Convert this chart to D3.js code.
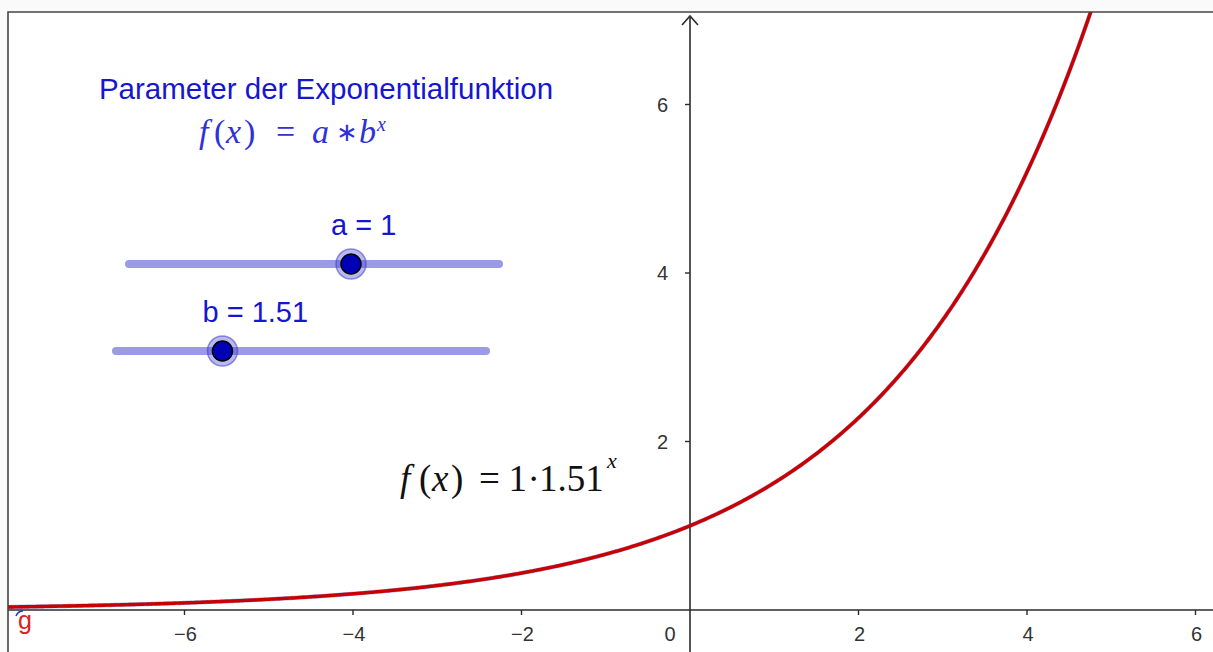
<!DOCTYPE html>
<html>
<head>
<meta charset="utf-8">
<script src="https://cdn.jsdelivr.net/npm/d3@7"></script>
<style>
  html, body { margin: 0; padding: 0; background: #fafafa; }
  svg { display: block; }
  .sans { font-family: "Liberation Sans", Arial, sans-serif; }
  .serif { font-family: "Liberation Serif", "Times New Roman", serif; }
</style>
</head>
<body>
<svg id="chart" width="1213" height="652"></svg>
<script>
// Function parameters f(x) = a * b^x
const paramA = 1;
const paramB = 1.51;

// Slider ranges
const sliderRangeA = [-5, 5];
const sliderRangeB = [0.1, 5];

// Axis ticks
const xTickValues = [-6, -4, -2, 0, 2, 4, 6];
const yTickValues = [2, 4, 6];

// Texts
const titleText = "Parameter der Exponentialfunktion";
const curveName = "g";

const W = 1213, H = 652;
const frameLeft = 8, frameTop = 12;
const svg = d3.select("#chart");

// drawing area
svg.append("rect").attr("x", frameLeft).attr("y", frameTop)
  .attr("width", W - frameLeft).attr("height", H - frameTop).attr("fill", "#ffffff");

// scales: origin at (690, 610), ~84.25 px per unit
const unit = 84.25;
const x = d3.scaleLinear().domain([(frameLeft - 690) / unit, (W - 690) / unit]).range([frameLeft, W]);
const y = d3.scaleLinear().domain([(610 - H) / unit, (610 - frameTop) / unit]).range([H, frameTop]);

svg.append("clipPath").attr("id", "area")
  .append("rect").attr("x", frameLeft).attr("y", frameTop).attr("width", W - frameLeft).attr("height", H - frameTop);

const axisColor = "#2b2b2b";
const labelColor = "#333333";

// x axis
svg.append("line")
  .attr("x1", frameLeft).attr("x2", W).attr("y1", y(0)).attr("y2", y(0))
  .attr("stroke", axisColor).attr("stroke-width", 1.6);
// y axis
svg.append("line")
  .attr("x1", x(0)).attr("x2", x(0)).attr("y1", H).attr("y2", 16)
  .attr("stroke", axisColor).attr("stroke-width", 1.6);
// arrow head
svg.append("path")
  .attr("d", `M${x(0) - 8},${25} L${x(0)},${16} L${x(0) + 8},${25}`)
  .attr("fill", "none").attr("stroke", axisColor).attr("stroke-width", 1.6);

// x ticks
const tickFont = 20;
const xt = svg.append("g").attr("class", "sans");
xTickValues.filter(d => d !== 0).forEach(d => {
  xt.append("line").attr("x1", x(d)).attr("x2", x(d))
    .attr("y1", y(0)).attr("y2", y(0) + 5).attr("stroke", axisColor).attr("stroke-width", 1.4);
  xt.append("text").attr("x", x(d) + 1).attr("y", y(0) + 31)
    .attr("text-anchor", "middle").attr("font-size", tickFont).attr("fill", labelColor)
    .text(d < 0 ? "\u2212" + Math.abs(d) : d);
});
xt.append("text").attr("x", x(0) - 20).attr("y", y(0) + 31)
  .attr("text-anchor", "middle").attr("font-size", tickFont).attr("fill", labelColor).text("0");

// y ticks
const yt = svg.append("g").attr("class", "sans");
yTickValues.forEach(d => {
  yt.append("line").attr("x1", x(0) - 5).attr("x2", x(0))
    .attr("y1", y(d)).attr("y2", y(d)).attr("stroke", axisColor).attr("stroke-width", 1.4);
  yt.append("text").attr("x", x(0) - 22).attr("y", y(d) + 7)
    .attr("text-anchor", "end").attr("font-size", tickFont).attr("fill", labelColor).text(d);
});

// exponential curve
const f = t => paramA * Math.pow(paramB, t);
const samples = d3.range(x.domain()[0], x.domain()[1], 0.02).map(t => [t, f(t)]);
const line = d3.line().x(d => x(d[0])).y(d => y(d[1])).curve(d3.curveLinear);
const cg = svg.append("g").attr("clip-path", "url(#area)");
cg.append("path").datum(samples).attr("d", line)
  .attr("fill", "none").attr("stroke", "#3a2a9a").attr("stroke-width", 4.2).attr("opacity", 0.45);
cg.append("path").datum(samples).attr("d", line)
  .attr("fill", "none").attr("stroke", "#c80000").attr("stroke-width", 3.4);

// curve name
svg.append("path").attr("d", "M16,616 Q18,611 23,611")
  .attr("fill", "none").attr("stroke", "#1a3acc").attr("stroke-width", 1.5);
svg.append("text").attr("class", "sans").attr("x", 18).attr("y", 629)
  .attr("font-size", 25).attr("fill", "#e02020").text(curveName);

// title
const blue = "#1616d0";
svg.append("text").attr("class", "sans").attr("x", 326).attr("y", 99)
  .attr("text-anchor", "middle").attr("font-size", 29.5).attr("fill", blue).text(titleText);

// math text: each glyph placed at its own x
function mathText(color, size, baseline, parts) {
  const t = svg.append("text").attr("class", "serif").attr("fill", color).attr("font-size", size);
  parts.forEach(p => {
    const s = t.append("tspan").attr("x", p.x).attr("y", baseline + (p.dy || 0)).text(p.t);
    if (p.i) s.attr("font-style", "italic");
    if (p.s) s.attr("font-size", p.s);
  });
}

// general formula f(x) = a * b^x
mathText("#3030d8", 34, 143, [
  { t: "f", x: 199, i: true },
  { t: "(", x: 214 },
  { t: "x", x: 226, i: true },
  { t: ")", x: 244 },
  { t: "=", x: 276 },
  { t: "a", x: 312, i: true },
  { t: "\u2217", x: 336, s: 26, dy: -2 },
  { t: "b", x: 359, i: true },
  { t: "x", x: 377, i: true, s: 20, dy: -12 }
]);

// sliders
function slider(x1, x2, yy, range, value, label) {
  const s = d3.scaleLinear().domain(range).range([x1, x2]);
  const g = svg.append("g");
  g.append("line").attr("x1", x1).attr("x2", x2).attr("y1", yy).attr("y2", yy)
    .attr("stroke", "#9a9ae6").attr("stroke-width", 8).attr("stroke-linecap", "round");
  g.append("circle").attr("cx", s(value)).attr("cy", yy).attr("r", 15)
    .attr("fill", "rgba(70,70,215,0.38)").attr("stroke", "rgba(60,60,200,0.55)").attr("stroke-width", 1.5);
  g.append("circle").attr("cx", s(value)).attr("cy", yy).attr("r", 10)
    .attr("fill", "#0000b4").attr("stroke", "#000000").attr("stroke-width", 1.5);
  g.append("text").attr("class", "sans").attr("x", s(value) - 20).attr("y", yy - 29)
    .attr("font-size", 29).attr("fill", blue).text(label);
}
slider(129, 499, 264, sliderRangeA, paramA, "a = " + paramA);
slider(116, 486, 351, sliderRangeB, paramB, "b = " + paramB);

// specific formula
mathText("#111111", 37, 491, [
  { t: "f", x: 400, i: true },
  { t: "(", x: 419 },
  { t: "x", x: 432, i: true },
  { t: ")", x: 451 },
  { t: "=", x: 479 },
  { t: String(paramA), x: 508.5 },
  { t: "\u00b7", x: 527.5 },
  { t: String(paramB), x: 539 },
  { t: "x", x: 607, i: true, s: 22, dy: -23 }
]);

// frame
svg.append("path").attr("d", `M${frameLeft},${H} L${frameLeft},${frameTop} L${W},${frameTop}`)
  .attr("fill", "none").attr("stroke", "#444444").attr("stroke-width", 1.6);
</script>
</body>
</html>
